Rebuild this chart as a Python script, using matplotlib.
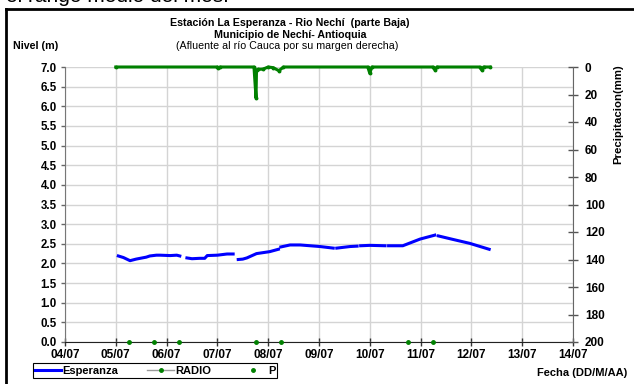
import numpy as np
import matplotlib
matplotlib.use("Agg")
import matplotlib.pyplot as plt
from matplotlib.lines import Line2D

plt.rcParams["font.family"] = ["Liberation Sans", "DejaVu Sans"]

nan = np.nan

# Esperanza level (m), day of July; nan = gap in record
esp_day = [5.05, 5.15, 5.28, 5.4, 5.48, 5.6, 5.67, 5.8, 5.87, 6.07, 6.2, 6.26, 6.33,
           6.4, 6.5, 6.65, 6.75, 6.8, 7.0, 7.19, 7.31, 7.36,
           7.41, 7.5, 7.58, 7.77, 8.03, 8.2, 8.22,
           8.25, 8.43, 8.63, 9.02, 9.28, 9.31,
           9.35, 9.61, 9.75, 9.78, 9.82, 10.0, 10.3, 10.33,
           10.37, 10.65, 10.99, 11.28, 11.31,
           11.35, 11.64, 11.97, 12.35]
esp_lvl = [2.19, 2.15, 2.07, 2.11, 2.13, 2.16, 2.19, 2.21, 2.21, 2.20, 2.21, 2.19, nan,
           2.14, 2.12, 2.13, 2.13, 2.20, 2.21, 2.24, 2.24, nan,
           2.10, 2.11, 2.14, 2.25, 2.30, 2.36, nan,
           2.42, 2.47, 2.47, 2.43, 2.39, nan,
           2.39, 2.43, 2.44, nan, 2.45, 2.46, 2.45, nan,
           2.45, 2.45, 2.62, 2.72, nan,
           2.70, 2.61, 2.51, 2.36]

# RADIO precipitation (mm)
radio_day = [5.0, 7.0, 7.02, 7.05, 7.72, 7.76, 7.77, 7.8, 7.9, 8.0, 8.1, 8.21, 8.3,
             9.96, 10.0, 10.04, 11.24, 11.28, 11.32, 12.16, 12.2, 12.24, 12.37]
radio_mm = [0, 0, 1.0, 0, 0, 22.5, 2.0, 1.7, 1.5, 0, 0.5, 2.7, 0,
            0, 4.6, 0, 0, 2.0, 0, 0, 2.0, 0, 0]

# P markers
p_day = [5.26, 5.75, 6.25, 7.76, 8.25, 10.75, 11.25]
p_val = [0, 0, 0, 0, 0, 0, 0]

day_ticks = list(range(4, 15))
day_labels = [f"{d:02d}/07" for d in day_ticks]
lvl_ticks = [i * 0.5 for i in range(15)]
mm_ticks = list(range(0, 201, 20))

W, H = 634, 384
fig = plt.figure(figsize=(W / 100, H / 100), dpi=100)
ax = fig.add_axes([65 / W, 1 - 342 / H, (573 - 65) / W, (342 - 67) / H])
ax2 = ax.twinx()

ax.set_xlim(4, 14)
ax.set_ylim(0, 7)
ax.set_xticks(day_ticks)
ax.set_xticklabels(day_labels, fontsize=8.5, fontweight="bold")
ax.set_yticks(lvl_ticks)
ax.set_yticklabels([f"{v:.1f}" for v in lvl_ticks], fontsize=8.3, fontweight="bold")
ax.grid(True, color="#d4d4d4", lw=1.0)
ax.set_axisbelow(True)
ax.tick_params(axis="x", direction="inout", length=6, width=1, pad=2, color="#333333")
ax.tick_params(axis="y", direction="out", length=3, width=1, pad=3, color="#666666")
for s in ("top", "right"):
    ax.spines[s].set_visible(False)
ax.spines["left"].set_color("#777777")
ax.spines["bottom"].set_color("#222222")

ax.plot(esp_day, esp_lvl, color="#0000ff", lw=2.2, zorder=3)
ax.plot(p_day, p_val, ls="none", marker="o", ms=2.5, color="#008000",
        clip_on=False, zorder=5)

ax2.set_ylim(200, 0)
ax2.set_yticks(mm_ticks)
ax2.set_yticklabels([str(v) for v in mm_ticks], fontsize=8.5, fontweight="bold")
ax2.tick_params(axis="y", direction="inout", length=7, width=1, pad=5, color="#555555")
for s in ("top", "left", "bottom"):
    ax2.spines[s].set_visible(False)
ax2.spines["right"].set_color("#666666")
ax2.plot(radio_day, radio_mm, color="#008000", lw=2.2, marker="o", ms=1.8,
         clip_on=False, zorder=4)

# texts
fig.text(6 / W, 1 - 2.5 / H, "el rango medio del mes.", fontsize=15,
         ha="left", va="baseline")
fig.text(290 / W, 1 - 23 / H, "Estación La Esperanza - Rio Nechí  (parte Baja)",
         fontsize=7.7, fontweight="bold", ha="center", va="center")
fig.text(290 / W, 1 - 34.5 / H, "Municipio de Nechí- Antioquia",
         fontsize=7.7, fontweight="bold", ha="center", va="center")
fig.text(287 / W, 1 - 46 / H, "(Afluente al río Cauca por su margen derecha)",
         fontsize=7.7, ha="center", va="center")
fig.text(13 / W, 1 - 46 / H, "Nivel (m)", fontsize=7.7, fontweight="bold",
         ha="left", va="center")
fig.text(618 / W, 1 - 114 / H, "Precipitacion(mm)", fontsize=8.2,
         fontweight="bold", rotation=90, ha="center", va="center")
fig.text(627 / W, 1 - 373 / H, "Fecha (DD/M/AA)", fontsize=8,
         fontweight="bold", ha="right", va="center")

# frame
fig.add_artist(Line2D([6 / W, 6 / W], [0, 1 - 9 / H], color="black", lw=2,
                      transform=fig.transFigure))
fig.add_artist(Line2D([6 / W, 1], [1 - 9 / H, 1 - 9 / H], color="black", lw=2,
                      transform=fig.transFigure))

handles = [
    Line2D([0], [0], color="#0000ff", lw=2.2, label="Esperanza"),
    Line2D([0], [0], color="#999999", lw=1, marker="o", ms=2.5,
           mfc="#008000", mec="#008000", label="RADIO"),
    Line2D([0], [0], ls="none", marker="o", ms=2.5, color="#008000", label="P"),
]
leg = fig.legend(handles=handles, loc="center", bbox_to_anchor=(155 / W, 1 - 370.5 / H),
                 ncol=3, numpoints=1, fancybox=False, framealpha=1,
                 edgecolor="black", borderpad=0.2, handlelength=2.4,
                 handletextpad=0.1, columnspacing=2.6, borderaxespad=0,
                 prop={"size": 8, "weight": "bold"})
leg.get_frame().set_linewidth(0.8)

fig.savefig("out.png", dpi=100)
